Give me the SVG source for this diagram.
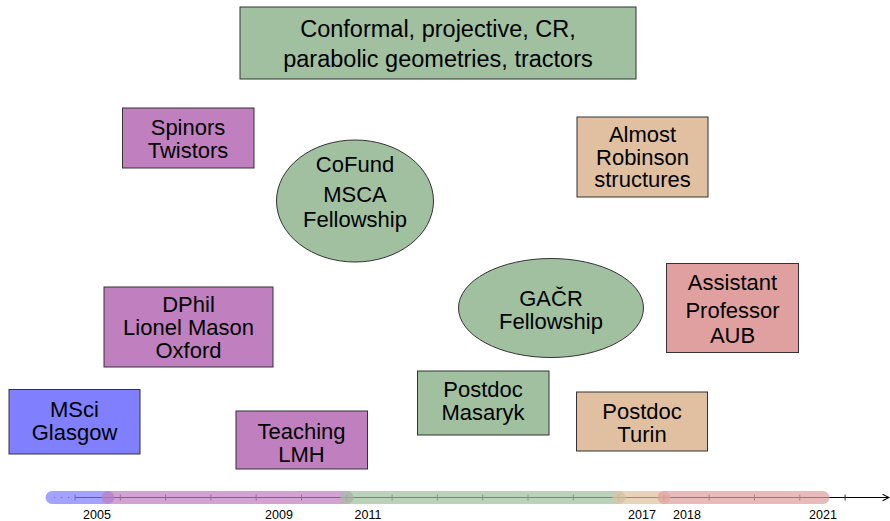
<svg xmlns="http://www.w3.org/2000/svg" width="890" height="521" viewBox="0 0 890 521">
<defs>
<style>
.n{stroke:#333;stroke-width:1}
.t{font-family:"Liberation Sans",Arial,sans-serif;font-size:22px;text-anchor:middle;fill:#000}
.big{font-size:23.5px}
.yr{font-family:"Liberation Sans",Arial,sans-serif;font-size:12.5px;text-anchor:middle;fill:#000}
.blue{fill:#8080ff}.purple{fill:#c080c0}.green{fill:#a0c0a0}.tan{fill:#e0c0a0}.red{fill:#e0a0a0}
.band{stroke-width:13;stroke-linecap:round;opacity:0.72;fill:none}
.tick{stroke:#333;stroke-width:1}
</style>
<marker id="arr" viewBox="0 0 10 10" refX="9" refY="5" markerWidth="8" markerHeight="8" orient="auto" markerUnits="userSpaceOnUse">
<path d="M1,1 L9,5 L1,9" fill="none" stroke="#000" stroke-width="1.3"/>
</marker>
</defs>
<rect width="890" height="521" fill="#fff"/>

<g id="timeline">
<path d="M52,497.5 H75" stroke="#333" stroke-width="1" stroke-dasharray="1.2,5.8" stroke-dashoffset="-2"/>
<path d="M75,497.5 H889" stroke="#000" stroke-width="1" marker-end="url(#arr)"/>
<g class="tick">
<path d="M75,494.5v6M120.3,494.5v6M165.6,494.5v6M210.9,494.5v6M256.2,494.5v6M301.5,494.5v6M346.8,494.5v6M392.1,494.5v6M437.4,494.5v6M482.7,494.5v6M528,494.5v6M573.3,494.5v6M618.6,494.5v6M663.9,494.5v6M709.2,494.5v6M754.5,494.5v6M799.8,494.5v6M845.1,494.5v6"/>
</g>
<line class="band" x1="52" y1="497.5" x2="108" y2="497.5" stroke="#8080ff"/>
<line class="band" x1="108" y1="497.5" x2="347" y2="497.5" stroke="#c080c0"/>
<line class="band" x1="347" y1="497.5" x2="619" y2="497.5" stroke="#a0c0a0"/>
<line class="band" x1="619" y1="497.5" x2="664" y2="497.5" stroke="#e0c0a0"/>
<line class="band" x1="664" y1="497.5" x2="823" y2="497.5" stroke="#e0a0a0"/>
<text class="yr" x="97" y="519">2005</text>
<text class="yr" x="279" y="519">2009</text>
<text class="yr" x="368" y="519">2011</text>
<text class="yr" x="642" y="519">2017</text>
<text class="yr" x="687" y="519">2018</text>
<text class="yr" x="823" y="519">2021</text>
</g>

<g id="conformal">
<rect class="n green" x="240" y="7" width="396" height="72"/>
<text class="t big" x="438" y="37">Conformal, projective, CR,</text>
<text class="t big" x="438" y="67">parabolic geometries, tractors</text>
</g>

<g id="spinors">
<rect class="n purple" x="122.5" y="108" width="131.5" height="60"/>
<text class="t" x="188" y="135">Spinors</text>
<text class="t" x="188" y="158">Twistors</text>
</g>

<g id="cofund">
<ellipse class="n green" cx="355" cy="201" rx="78.5" ry="61"/>
<text class="t" x="355" y="172">CoFund</text>
<text class="t" x="355" y="202">MSCA</text>
<text class="t" x="355" y="227">Fellowship</text>
</g>

<g id="robinson">
<rect class="n tan" x="577" y="117" width="131" height="80"/>
<text class="t" x="642.5" y="142">Almost</text>
<text class="t" x="642.5" y="164.5">Robinson</text>
<text class="t" x="642.5" y="187">structures</text>
</g>

<g id="dphil">
<rect class="n purple" x="104" y="287" width="169" height="80"/>
<text class="t" x="188.5" y="312">DPhil</text>
<text class="t" x="188.5" y="335">Lionel Mason</text>
<text class="t" x="188.5" y="357.5">Oxford</text>
</g>

<g id="gacr">
<ellipse class="n green" cx="551" cy="308" rx="92.5" ry="49.5"/>
<text class="t" x="551" y="306">GAČR</text>
<text class="t" x="551" y="329">Fellowship</text>
</g>

<g id="assistant">
<rect class="n red" x="666.5" y="263.5" width="132" height="89"/>
<text class="t" x="732.5" y="290">Assistant</text>
<text class="t" x="732.5" y="317.5">Professor</text>
<text class="t" x="732.5" y="343">AUB</text>
</g>

<g id="msci">
<rect class="n blue" x="9" y="389.5" width="131" height="64.5"/>
<text class="t" x="74.5" y="417">MSci</text>
<text class="t" x="74.5" y="440">Glasgow</text>
</g>

<g id="teaching">
<rect class="n purple" x="236" y="411" width="131.5" height="58"/>
<text class="t" x="301.5" y="438.5">Teaching</text>
<text class="t" x="301.5" y="462">LMH</text>
</g>

<g id="masaryk">
<rect class="n green" x="417.5" y="371" width="131.5" height="64"/>
<text class="t" x="483" y="397">Postdoc</text>
<text class="t" x="483" y="420">Masaryk</text>
</g>

<g id="turin">
<rect class="n tan" x="576.5" y="392" width="131" height="59"/>
<text class="t" x="642" y="418.5">Postdoc</text>
<text class="t" x="642" y="442">Turin</text>
</g>
</svg>
